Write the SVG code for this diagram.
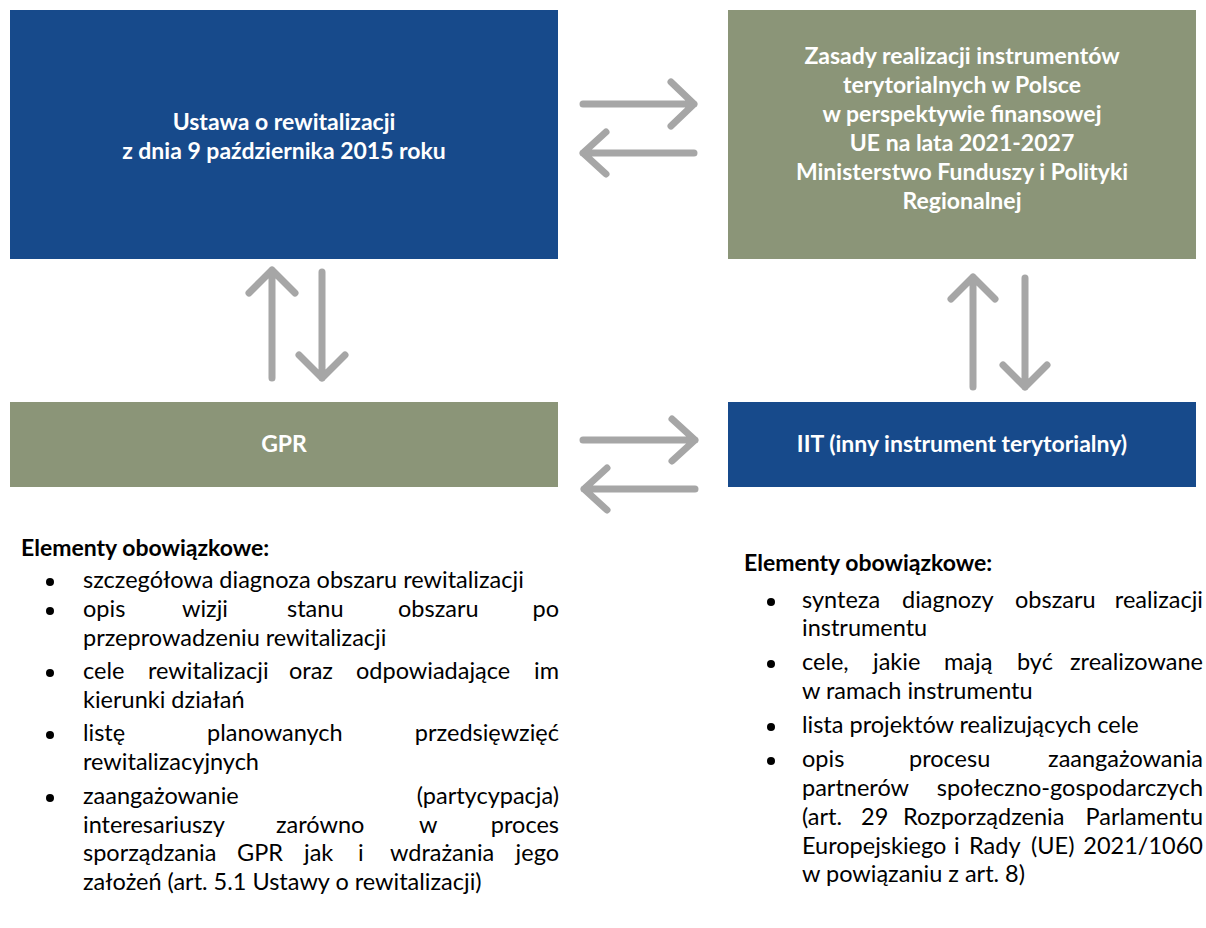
<svg xmlns="http://www.w3.org/2000/svg" width="1206" height="928" viewBox="0 0 1206 928">
<style>
.blue{fill:#174a8b}
.olive{fill:#8b9578}
.bt{font-family:Lato,'Liberation Sans',sans-serif;font-weight:700;font-size:23px;fill:#ffffff;text-anchor:middle}
.hdr{font-family:Lato,'Liberation Sans',sans-serif;font-weight:700;font-size:23px;fill:#000000}
.tx{font-family:Lato,'Liberation Sans',sans-serif;font-size:23.5px;fill:#000000}
.arr{fill:none;stroke:#a6a6a6;stroke-width:7;stroke-linecap:round;stroke-linejoin:round}
.dot{fill:#000000}
</style>
<rect width="1206" height="928" fill="#ffffff"/>

<g id="ustawa">
<rect class="blue" x="10" y="10" width="548" height="249"/>
<text class="bt" x="284" y="130">Ustawa o rewitalizacji</text>
<text class="bt" x="284" y="159">z dnia 9 października 2015 roku</text>
</g>

<g id="zasady">
<rect class="olive" x="728" y="10" width="468" height="249"/>
<text class="bt" x="962" y="64">Zasady realizacji instrumentów</text>
<text class="bt" x="962" y="93">terytorialnych w Polsce</text>
<text class="bt" x="962" y="122">w perspektywie finansowej</text>
<text class="bt" x="962" y="151">UE na lata 2021-2027</text>
<text class="bt" x="962" y="180">Ministerstwo Funduszy i Polityki</text>
<text class="bt" x="962" y="209">Regionalnej</text>
</g>

<g id="gpr">
<rect class="olive" x="10" y="402" width="548" height="85"/>
<text class="bt" x="284" y="452">GPR</text>
</g>

<g id="iit">
<rect class="blue" x="728" y="402" width="468" height="85"/>
<text class="bt" x="962" y="452">IIT (inny instrument terytorialny)</text>
</g>

<g id="connectors">
<path class="arr" d="M583 104H694M671 82L694 104L671 126"/>
<path class="arr" d="M694 153H583M606 132L583 153L606 174"/>
<path class="arr" d="M583 440H695M672 419L695 440L672 461"/>
<path class="arr" d="M695 489H584M607 468L584 489L607 510"/>
<path class="arr" d="M272 378V270M249 293L272 270L295 293"/>
<path class="arr" d="M322 272V378M299 355L322 378L345 355"/>
<path class="arr" d="M973 387V277M951 299L973 277L995 299"/>
<path class="arr" d="M1025 278V387M1003 365L1025 387L1047 365"/>
</g>

<g id="gpr-list">
<text class="hdr" x="21" y="556">Elementy obowiązkowe:</text>
<circle class="dot" cx="50" cy="582" r="4"/>
<circle class="dot" cx="50" cy="611" r="4"/>
<circle class="dot" cx="50" cy="673" r="4"/>
<circle class="dot" cx="50" cy="735" r="4"/>
<circle class="dot" cx="50" cy="798" r="4"/>
<text class="tx" x="83" y="588">szczegółowa diagnoza obszaru rewitalizacji</text>
<text class="tx" y="617"><tspan x="83">opis</tspan><tspan x="182">wizji</tspan><tspan x="287">stanu</tspan><tspan x="398">obszaru</tspan><tspan x="559" text-anchor="end">po</tspan></text>
<text class="tx" x="83" y="645.5">przeprowadzeniu rewitalizacji</text>
<text class="tx" y="679"><tspan x="83">cele</tspan><tspan x="148">rewitalizacji</tspan><tspan x="289">oraz</tspan><tspan x="356">odpowiadające</tspan><tspan x="559" text-anchor="end">im</tspan></text>
<text class="tx" x="83" y="707.5">kierunki działań</text>
<text class="tx" y="741"><tspan x="83">listę</tspan><tspan x="207">planowanych</tspan><tspan x="559" text-anchor="end">przedsięwzięć</tspan></text>
<text class="tx" x="83" y="769.5">rewitalizacyjnych</text>
<text class="tx" y="804"><tspan x="83">zaangażowanie</tspan><tspan x="559" text-anchor="end">(partycypacja)</tspan></text>
<text class="tx" y="832.5"><tspan x="83">interesariuszy</tspan><tspan x="276">zarówno</tspan><tspan x="419">w</tspan><tspan x="559" text-anchor="end">proces</tspan></text>
<text class="tx" y="861"><tspan x="83">sporządzania</tspan><tspan x="237">GPR</tspan><tspan x="304">jak</tspan><tspan x="358">i</tspan><tspan x="390">wdrażania</tspan><tspan x="559" text-anchor="end">jego</tspan></text>
<text class="tx" x="83" y="889.5">założeń (art. 5.1 Ustawy o rewitalizacji)</text>
</g>

<g id="iit-list">
<text class="hdr" x="744" y="571">Elementy obowiązkowe:</text>
<circle class="dot" cx="771" cy="602" r="4"/>
<circle class="dot" cx="771" cy="664" r="4"/>
<circle class="dot" cx="771" cy="727" r="4"/>
<circle class="dot" cx="771" cy="761" r="4"/>
<text class="tx" y="608"><tspan x="802">synteza</tspan><tspan x="902">diagnozy</tspan><tspan x="1015">obszaru</tspan><tspan x="1203" text-anchor="end">realizacji</tspan></text>
<text class="tx" x="802" y="636">instrumentu</text>
<text class="tx" y="670"><tspan x="802">cele,</tspan><tspan x="873">jakie</tspan><tspan x="944">mają</tspan><tspan x="1017">być</tspan><tspan x="1203" text-anchor="end">zrealizowane</tspan></text>
<text class="tx" x="802" y="699">w ramach instrumentu</text>
<text class="tx" x="802" y="733">lista projektów realizujących cele</text>
<text class="tx" y="767"><tspan x="802">opis</tspan><tspan x="909">procesu</tspan><tspan x="1203" text-anchor="end">zaangażowania</tspan></text>
<text class="tx" y="796"><tspan x="802">partnerów</tspan><tspan x="1203" text-anchor="end">społeczno-gospodarczych</tspan></text>
<text class="tx" y="825"><tspan x="802">(art.</tspan><tspan x="861">29</tspan><tspan x="903">Rozporządzenia</tspan><tspan x="1203" text-anchor="end">Parlamentu</tspan></text>
<text class="tx" y="854"><tspan x="802">Europejskiego</tspan><tspan x="954">i</tspan><tspan x="969">Rady</tspan><tspan x="1031">(UE)</tspan><tspan x="1203" text-anchor="end">2021/1060</tspan></text>
<text class="tx" x="802" y="882">w powiązaniu z art. 8)</text>
</g>
</svg>
